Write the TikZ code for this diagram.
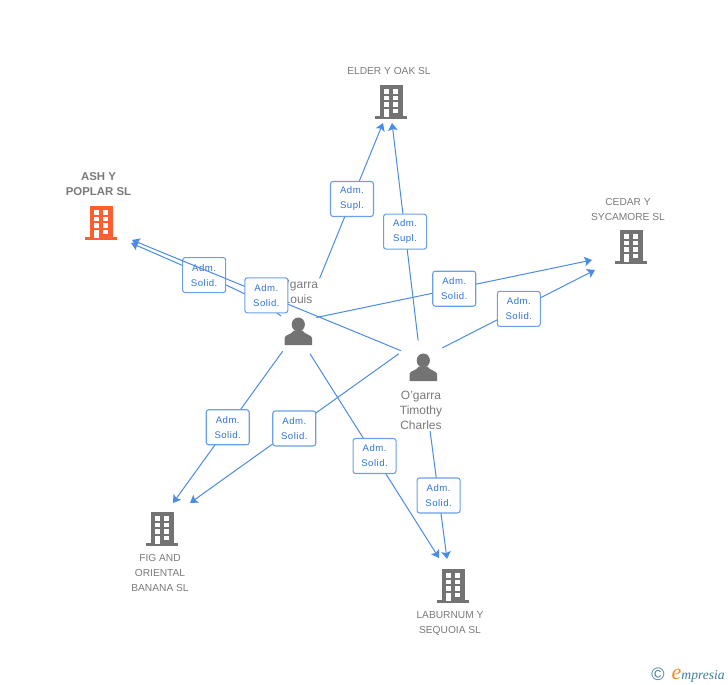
\documentclass[tikz,border=0pt]{standalone}
\usepackage{fontspec}
\setmainfont{Liberation Sans}
\newfontfamily\admfont[LetterSpace=5]{Liberation Sans}
\newfontfamily\logofont{Liberation Serif}
\usetikzlibrary{arrows.meta}
\definecolor{linkblue}{HTML}{4A8BE6}
\definecolor{boxblue}{HTML}{6BA0E8}
\definecolor{admblue}{HTML}{2F74DC}
\definecolor{iconGrey}{HTML}{737373}
\definecolor{textGrey}{HTML}{7A7A7A}
\definecolor{ashRed}{HTML}{FF5F30}
\definecolor{logoTeal}{HTML}{3F7F95}
\definecolor{logoOrange}{HTML}{F08A1D}
\tikzset{
  link/.style={draw=linkblue,line width=1pt,-{Stealth[length=7.5pt,width=9.5pt,inset=1.5pt]}},
  admbox/.style={draw=boxblue,line width=1.1pt,fill=white,rounded corners=2.5pt,
    minimum width=43pt,minimum height=35pt,inner sep=0pt,align=center,text=admblue,
    font=\admfont\fontsize{9.6}{15}\selectfont},
  entity/.style={circle,minimum size=#1,inner sep=0pt},
  firm/.style={text=textGrey,align=center,font=\fontsize{10.2}{15}\selectfont},
  who/.style={text=textGrey,align=center,fill=white,inner sep=1.5pt,font=\fontsize{12}{15}\selectfont},
  pics/building/.style={code={
    \fill[#1] (-11,-17) rectangle (11.5,14);
    \fill[#1] (-16,14) rectangle (16,17);
    \foreach \wy in {-12.7,-6,0.3} {
      \fill[white] (-7,\wy) rectangle ++(4.7,4.2);
      \fill[white] (2.4,\wy) rectangle ++(4.9,4.2);
    }
    \fill[white] (2.4,7) rectangle ++(4.9,4.2);
    \fill[white] (-7,7) rectangle (-2.3,14.6);
  }},
  pics/person/.style={code={
    \fill[iconGrey] (0.3,-7) ellipse (6.6 and 7);
    \fill[iconGrey] (-13.5,13.5) -- (-13.5,6.5) .. controls (-13,3) and (-7,3.5) .. (-4,-1)
      -- (4.5,-1) .. controls (7,3.5) and (13.5,3) .. (14,6.5) -- (14,13.5) -- cycle;
  }}
}
\begin{document}
\begin{tikzpicture}[x=1pt,y=-1pt,line cap=round,line join=round]
  \useasboundingbox (0,0) rectangle (728,685);
  % firms
  \node[entity=44pt] (elder) at (391,102) {};
  \node[entity=44pt] (ash) at (101,223) {};
  \node[entity=44pt] (cedar) at (631,247) {};
  \node[entity=44pt] (fig) at (162,529) {};
  \node[entity=44pt] (laburnum) at (453,586) {};
  \pic at (elder) {building=iconGrey};
  \pic at (ash) {building=ashRed};
  \pic at (cedar) {building=iconGrey};
  \pic at (fig) {building=iconGrey};
  \pic at (laburnum) {building=iconGrey};
  \node[firm] (elderName) at (389,71) {ELDER Y OAK SL};
  \node[firm,font=\fontsize{11.4}{15}\selectfont\bfseries] (ashName) at (98.5,184) {ASH Y\\POPLAR SL};
  \node[firm] (cedarName) at (628,209) {CEDAR Y\\SYCAMORE SL};
  \node[firm] (figName) at (160,573) {FIG AND\\ORIENTAL\\BANANA SL};
  \node[firm] (laburnumName) at (450,623) {LABURNUM Y\\SEQUOIA SL};
  % arrow ends
  \coordinate (elderA) at (383,123);
  \coordinate (elderB) at (392,123);
  \coordinate (ashA) at (131,243);
  \coordinate (ashB) at (132,240);
  \coordinate (cedarA) at (592,260);
  \coordinate (cedarB) at (595,270);
  \coordinate (figA) at (173,503);
  \coordinate (figB) at (190,503);
  \coordinate (laburnumA) at (439,558);
  \coordinate (laburnumB) at (447,559);
  % Louis
  \node[entity=48pt] (louis) at (298,333) {};
  \pic at (298,331.5) {person};
  \node[who] (louisName) at (298,291.5) {O'garra\\Louis};
  \draw[link] (louisName.north east) -- node[admbox,pos=.51] (admElderA) {Adm.\\Supl.} (elderA);
  \draw[link] (louis.135) .. controls (258,298) and (225,284) .. node[admbox,pos=.68] (admAshA) {Adm.\\Solid.} (ashA);
  \draw[link] (louis.40) -- node[admbox] (admCedarA) {Adm.\\Solid.} (cedarA);
  \draw[link] (louis.230) -- node[admbox] (admFigA) {Adm.\\Solid.} (figA);
  \draw[link] (louis.-60) -- node[admbox] (admLaburnumA) {Adm.\\Solid.} (laburnumA);
  % Timothy
  \node[entity=56pt] (timothy) at (423,368) {};
  \pic at (423,367.5) {person};
  \draw[link] (timothy.100) -- node[admbox] (admElderB) {Adm.\\Supl.} (elderB);
  \draw[link] (timothy.142) -- node[admbox] (admAshB) {Adm.\\Solid.} (ashB);
  \draw[link] (timothy.46) -- node[admbox] (admCedarB) {Adm.\\Solid.} (cedarB);
  \draw[link] (timothy.150) -- node[admbox] (admFigB) {Adm.\\Solid.} (figB);
  \draw[link] (timothy.-85) -- node[admbox,pos=.61] (admLaburnumB) {Adm.\\Solid.} (laburnumB);
  \node[who] (timothyName) at (421,410) {O'garra\\Timothy\\Charles};
  % logo
  \node[text=logoTeal,font=\fontsize{18}{18}\selectfont,inner sep=0pt] (copyMark) at (658,674) {©};
  \node[text=logoTeal,anchor=base west,inner sep=0pt,font=\logofont\itshape\fontsize{13.6}{15}\selectfont] (logoName) at (671.5,679)
    {\textcolor{logoOrange}{\fontsize{22}{15}\selectfont e}mpresia};
\end{tikzpicture}
\end{document}
